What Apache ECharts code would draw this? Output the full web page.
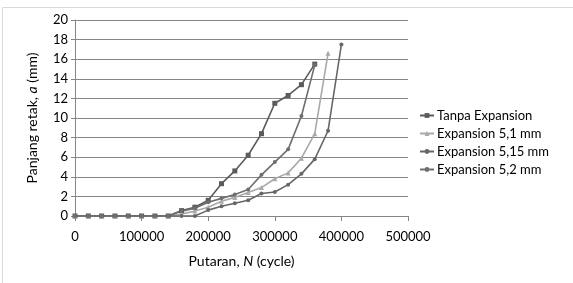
<!DOCTYPE html>
<html>
<head>
<meta charset="utf-8">
<script src="https://cdn.jsdelivr.net/npm/echarts@6/dist/echarts.min.js"></script>
<style>
	html, body {margin: 0; padding: 0; background: #fff;}
	#chart {width: 573px; height: 283px;}
</style>
</head>
<body>
<div id="chart"></div>
<script>
// putaran (cycle), tiap 20000
var cycles = [0, 20000, 40000, 60000, 80000, 100000, 120000, 140000, 160000, 180000, 200000,
	220000, 240000, 260000, 280000, 300000, 320000, 340000, 360000, 380000, 400000];

var tanpa   = [0, 0, 0, 0, 0, 0, 0, 0, 0.55, 0.9, 1.6, 3.3, 4.6, 6.2, 8.4, 11.5, 12.3, 13.4, 15.5];
var exp51   = [0, 0, 0, 0, 0, 0, 0, 0, 0.2, 0.5, 0.9, 1.5, 1.9, 2.4, 2.9, 3.8, 4.4, 5.9, 8.4, 16.6];
var exp515  = [0, 0, 0, 0, 0, 0, 0, 0, 0, 0, 0.6, 1.0, 1.3, 1.6, 2.3, 2.45, 3.2, 4.3, 5.8, 8.7, 17.5];
var exp52   = [0, 0, 0, 0, 0, 0, 0, 0, 0.5, 0.8, 1.4, 1.8, 2.2, 2.7, 4.2, 5.5, 6.8, 10.2, 15.4];

var names = ['Tanpa Expansion', 'Expansion 5,1 mm', 'Expansion 5,15 mm', 'Expansion 5,2 mm'];

function pairs(vals) {
	var out = [];
	vals.forEach(function(v, i) {
		out.push([cycles[i], v]);
	});
	return out;
}

var myChart = echarts.init(document.getElementById('chart'));
var font = 'Lato, "Open Sans", sans-serif';

function mk(name, vals, color, symbol, size) {
	return {
		name: name,
		type: 'line',
		data: pairs(vals),
		symbol: symbol,
		symbolSize: size,
		lineStyle: {color: color, width: 1.6},
		itemStyle: {color: color},
		animation: false
	};
}

var option = {
	textStyle: {fontFamily: font},
	graphic: [{
		type: 'rect',
		shape: {x: 2.5, y: 7.5, width: 600, height: 300},
		style: {fill: 'none', stroke: '#d9d9d9', lineWidth: 1},
		silent: true
	}],
	grid: {left: 75, right: 165, top: 20, bottom: 67},
	legend: {
		orient: 'vertical',
		left: 414,
		top: 104,
		itemGap: 5,
		itemWidth: 14,
		itemHeight: 6,
		textStyle: {fontSize: 13, color: '#000', fontFamily: font, padding: [0, 0, 0, -2]},
		data: names
	},
	xAxis: {
		type: 'value',
		min: 0,
		max: 500000,
		interval: 100000,
		name: 'Putaran, {i|N} (cycle)',
		nameLocation: 'middle',
		nameGap: 38,
		nameTextStyle: {
			fontSize: 14, color: '#000', fontFamily: font,
			rich: {i: {fontStyle: 'italic', fontSize: 14, fontFamily: font}}
		},
		axisLine: {lineStyle: {color: '#868686'}},
		axisTick: {show: true, length: 5, lineStyle: {color: '#868686'}},
		axisLabel: {fontSize: 13, color: '#000', margin: 14, formatter: function(v) { return String(v); }},
		splitLine: {show: false}
	},
	yAxis: {
		type: 'value',
		min: 0,
		max: 20,
		interval: 2,
		name: 'Panjang retak, {i|a} (mm)',
		nameLocation: 'middle',
		nameGap: 36,
		nameRotate: 90,
		nameTextStyle: {
			fontSize: 14, color: '#000', fontFamily: font,
			rich: {i: {fontStyle: 'italic', fontSize: 14, fontFamily: font}}
		},
		axisLine: {show: true, lineStyle: {color: '#868686'}},
		axisTick: {show: true, length: 4, lineStyle: {color: '#868686'}},
		axisLabel: {fontSize: 13, color: '#000', margin: 7},
		splitLine: {lineStyle: {color: '#868686', width: 1}}
	},
	series: [
		mk(names[0], tanpa, '#5b5b5b', 'rect', 5),
		mk(names[1], exp51, '#a9a9a9', 'triangle', 5),
		mk(names[2], exp515, '#666666', 'circle', 4),
		mk(names[3], exp52, '#6e6e6e', 'circle', 4)
	]
};
myChart.setOption(option);
</script>
</body>
</html>
